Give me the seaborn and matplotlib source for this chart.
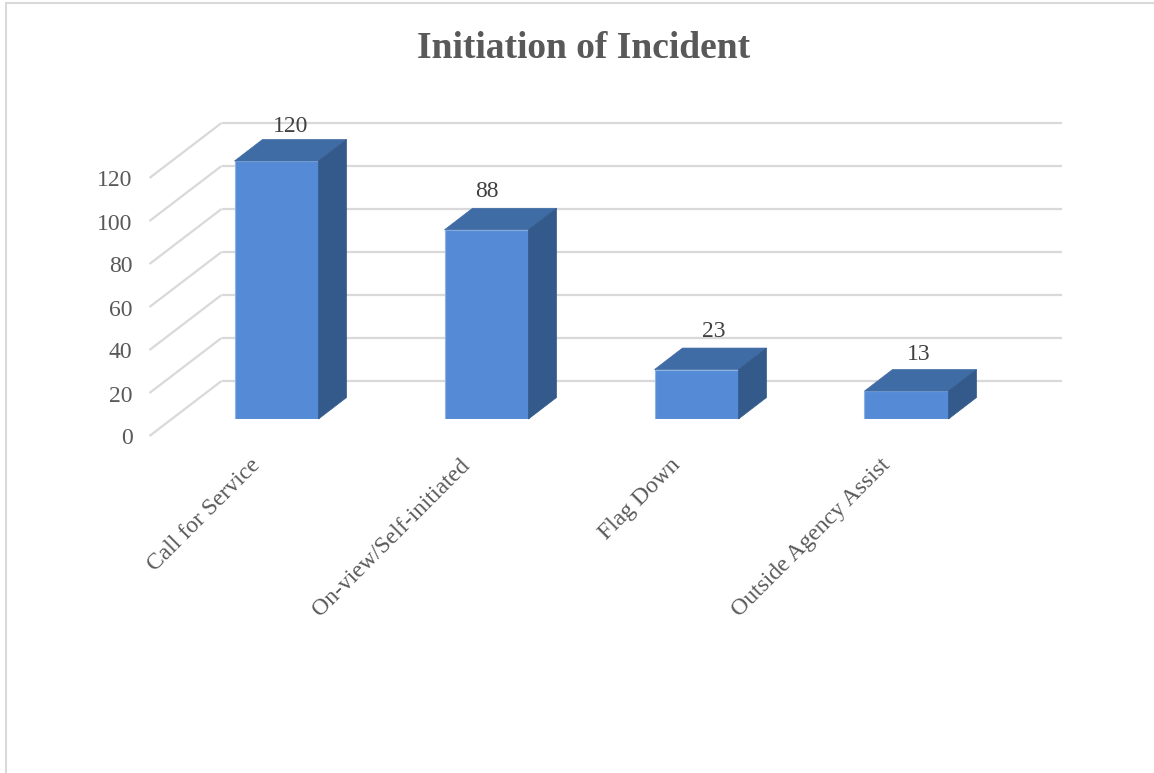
import matplotlib
matplotlib.use('Agg')
import matplotlib.pyplot as plt
from matplotlib.lines import Line2D
from matplotlib.patches import Polygon
from matplotlib.transforms import ScaledTranslation
import pandas as pd
import seaborn as sns

# data
categories = ['Call for Service', 'On-view/Self-initiated', 'Flag Down', 'Outside Agency Assist']
counts = [120, 88, 23, 13]
y_ticks = [0, 20, 40, 60, 80, 100, 120]

sns.set_theme(style='white')
plt.rcParams['font.family'] = ['Liberation Serif', 'DejaVu Serif']

W, H = 1154, 773
fig = plt.figure(figsize=(W / 100, H / 100), dpi=100, facecolor='white')
# plot area in pixels: x 172-1012, y 419 (value 0) to 161 (value 120)
ax = fig.add_axes([171.5 / W, 1 - 419 / H, 840 / W, 258 / H])

df = pd.DataFrame({'cat': categories, 'n': counts})
sns.barplot(data=df, x='cat', y='n', color='#558bd6', saturation=1, width=0.4,
            edgecolor='#8fb2e4', linewidth=0.8, ax=ax, zorder=3)
ax.set_xlim(-0.5, 3.5)
ax.set_ylim(0, 120)
ax.set_xlabel('')
ax.set_ylabel('')
sns.despine(ax=ax, left=True, bottom=True)

px_x = 1 / 210   # one pixel in category units
px_y = 1 / 2.15  # one pixel in value units

# depth of the bars
dx = 28 * px_x
dy = 21.5 * px_y
for bar in ax.patches:
    x0 = bar.get_x()
    x1 = x0 + bar.get_width()
    top = bar.get_height()
    ax.add_patch(Polygon([(x0, top), (x1, top), (x1 + dx, top + dy), (x0 + dx, top + dy)],
                         closed=True, fc='#3f6ca5', ec='#3f6ca5', lw=0.5, zorder=3, clip_on=False))
    ax.add_patch(Polygon([(x1, 0), (x1 + dx, dy), (x1 + dx, top + dy), (x1, top)],
                         closed=True, fc='#335a8a', ec='#335a8a', lw=0.5, zorder=3, clip_on=False))

# back wall and side wall gridlines
for v in y_ticks:
    back_y = v + 38 * px_y
    ax.plot([-0.5 + 50 * px_x, 3.5 + 50 * px_x], [back_y, back_y],
            color='#d9d9d9', lw=1.6, zorder=1, clip_on=False, solid_capstyle='butt')
    ax.plot([-0.5 - 22 * px_x, -0.5 + 50 * px_x], [v - 17 * px_y, back_y],
            color='#d9d9d9', lw=1.6, zorder=1, clip_on=False, solid_capstyle='butt')

# tick labels sit on the front edge of the floor
ax.set_yticks(y_ticks)
ax.set_yticklabels([str(v) for v in y_ticks])
ax.tick_params(axis='y', length=0, pad=28, labelsize=17, labelcolor='#595959')
ax.tick_params(axis='x', length=0, pad=0, labelsize=17, labelcolor='#595959')
y_shift = ScaledTranslation(0, -17.5 / 100, fig.dpi_scale_trans)
for lab in ax.get_yticklabels():
    lab.set_transform(lab.get_transform() + y_shift)
x_shift = ScaledTranslation(-27 / 100, -36 / 100, fig.dpi_scale_trans)
for lab in ax.get_xticklabels():
    lab.set_rotation(45)
    lab.set_ha('right')
    lab.set_rotation_mode('anchor')
    lab.set_transform(lab.get_transform() + x_shift)

# data labels were nudged by hand in the original
label_dx = [14, 0, 17, 12]
label_dy = [34, 38, 38, 37]
for i, n in enumerate(counts):
    ax.text(i + label_dx[i] * px_x, n + label_dy[i] * px_y, str(n), ha='center', va='center',
            fontsize=17, color='#404040', clip_on=False, zorder=4)

fig.text(583.5 / W, 1 - 48 / H, 'Initiation of Incident', ha='center', va='center',
         fontsize=27, fontweight='bold', color='#595959')

# chart frame
fig.add_artist(Line2D([6 / W, 6 / W], [0, 1 - 3 / H], color='#d9d9d9', lw=1.5))
fig.add_artist(Line2D([6 / W, 1], [1 - 3 / H, 1 - 3 / H], color='#d9d9d9', lw=1.5))

fig.savefig('out.png', dpi=100, facecolor='white')
